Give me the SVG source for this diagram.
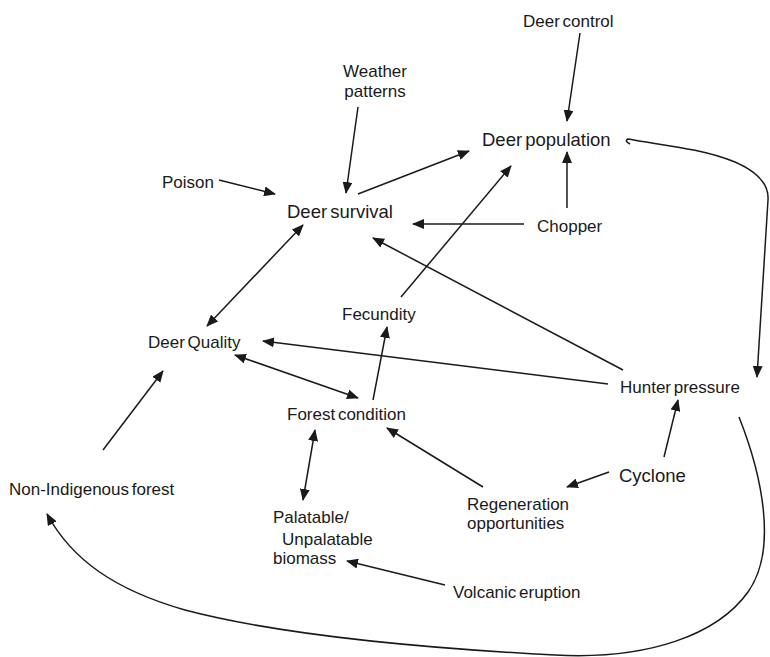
<svg xmlns="http://www.w3.org/2000/svg" width="770" height="657" viewBox="0 0 770 657">
  <style>
    text { font-family: "Liberation Sans", Arial, sans-serif; fill: #1a1a1a; word-spacing: -2px; }
    .s { font-size: 17px; }
    .b { font-size: 18.5px; }
    .c { fill: none; stroke: #1a1a1a; stroke-width: 1.5; }
  </style>
  <defs>
    <marker id="ah" viewBox="0 0 12 10" refX="11" refY="5" markerWidth="12" markerHeight="10" markerUnits="userSpaceOnUse" orient="auto-start-reverse">
      <path d="M0,0 L12,5 L0,10 Z" fill="#1a1a1a"/>
    </marker>
  </defs>
  <rect width="770" height="657" fill="#ffffff"/>

  <g id="connectors">
    <line class="c" x1="580" y1="33" x2="567" y2="121" marker-end="url(#ah)"/>
    <line class="c" x1="358" y1="107" x2="346" y2="193" marker-end="url(#ah)"/>
    <line class="c" x1="219" y1="180" x2="275" y2="194" marker-end="url(#ah)"/>
    <line class="c" x1="358" y1="194" x2="469" y2="151" marker-end="url(#ah)"/>
    <line class="c" x1="567" y1="208" x2="567" y2="152" marker-end="url(#ah)"/>
    <line class="c" x1="524" y1="224" x2="413" y2="224" marker-end="url(#ah)"/>
    <line class="c" x1="401" y1="297" x2="511" y2="166" marker-end="url(#ah)"/>
    <line class="c" x1="623" y1="370" x2="373" y2="238" marker-end="url(#ah)"/>
    <line class="c" x1="608" y1="384" x2="263" y2="341" marker-end="url(#ah)"/>
    <line class="c" x1="303" y1="225" x2="207" y2="326" marker-start="url(#ah)" marker-end="url(#ah)"/>
    <line class="c" x1="235" y1="355" x2="358" y2="398" marker-start="url(#ah)" marker-end="url(#ah)"/>
    <line class="c" x1="373" y1="400" x2="387" y2="327" marker-end="url(#ah)"/>
    <line class="c" x1="103" y1="450" x2="163" y2="371" marker-end="url(#ah)"/>
    <line class="c" x1="315" y1="430" x2="303" y2="500" marker-start="url(#ah)" marker-end="url(#ah)"/>
    <line class="c" x1="483" y1="487" x2="387" y2="428" marker-end="url(#ah)"/>
    <line class="c" x1="609" y1="472" x2="567" y2="487" marker-end="url(#ah)"/>
    <line class="c" x1="664" y1="457" x2="678" y2="400" marker-end="url(#ah)"/>
    <line class="c" x1="445" y1="585" x2="347" y2="561" marker-end="url(#ah)"/>
    <!-- loop from population down the right edge to hunter pressure -->
    <path class="c" d="M630,144 Q624,141 628,139 C660,145 700,148 735,162 C758,172 769,185 768,200 L757,377" marker-end="url(#ah)"/>
    <!-- loop from hunter pressure round the bottom to non-indigenous forest -->
    <path class="c" d="M739,417 C762,475 778,550 748,592 C718,634 650,660 555,655 C420,648 280,635 185,610 C115,590 72,560 47,514" marker-end="url(#ah)"/>
  </g>

  <g id="deer-control"><text class="s" x="523" y="27">Deer control</text></g>
  <g id="deer-population"><text class="b" x="482" y="146">Deer population</text></g>
  <g id="weather-patterns"><text class="s" x="375" y="77" text-anchor="middle">Weather</text><text class="s" x="375" y="97" text-anchor="middle">patterns</text></g>
  <g id="poison"><text class="s" x="162" y="188">Poison</text></g>
  <g id="deer-survival"><text class="b" x="287" y="218">Deer survival</text></g>
  <g id="chopper"><text class="s" x="537" y="232">Chopper</text></g>
  <g id="fecundity"><text class="s" x="342" y="320">Fecundity</text></g>
  <g id="deer-quality"><text class="s" x="148" y="348">Deer Quality</text></g>
  <g id="hunter-pressure"><text class="s" x="620" y="393">Hunter pressure</text></g>
  <g id="forest-condition"><text class="s" x="287" y="420">Forest condition</text></g>
  <g id="cyclone"><text class="b" x="619" y="482">Cyclone</text></g>
  <g id="non-indigenous-forest"><text class="s" x="9" y="495">Non-Indigenous forest</text></g>
  <g id="regeneration"><text class="s" x="467" y="510">Regeneration</text><text class="s" x="467" y="529">opportunities</text></g>
  <g id="palatable-biomass"><text class="s" x="273" y="523">Palatable/</text><text class="s" x="282" y="545">Unpalatable</text><text class="s" x="273" y="564">biomass</text></g>
  <g id="volcanic-eruption"><text class="s" x="453" y="598">Volcanic eruption</text></g>
</svg>
